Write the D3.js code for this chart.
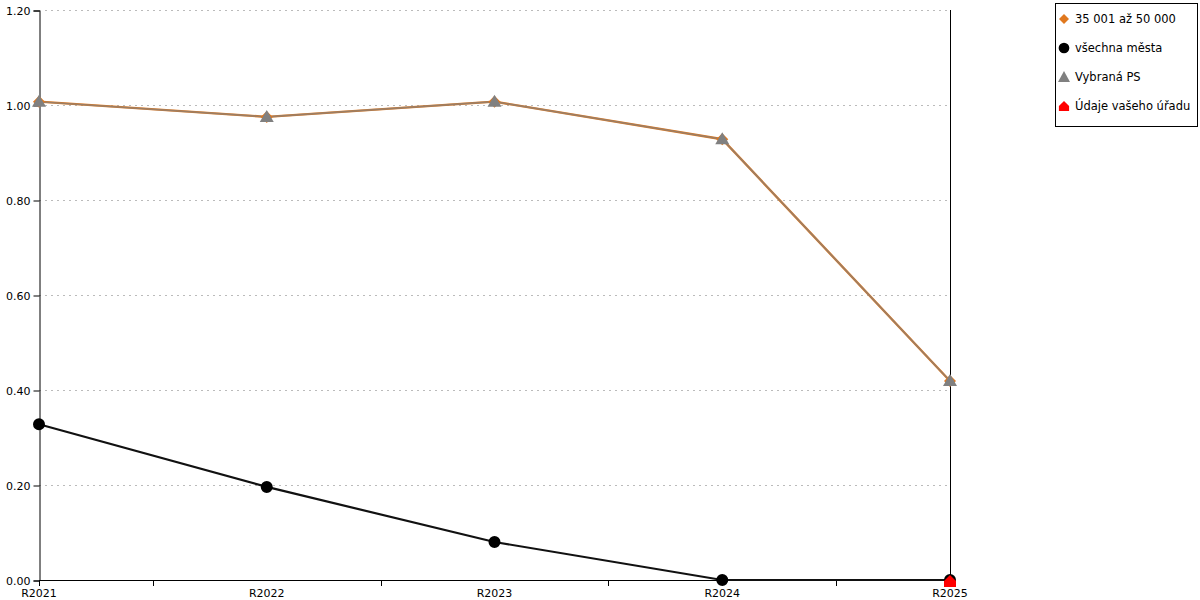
<!DOCTYPE html>
<html>
<head>
<meta charset="utf-8">
<script src="https://cdn.jsdelivr.net/npm/d3@7"></script>
<style>
  body { margin: 0; background: #fff; }
  svg { font-family: "DejaVu Sans", sans-serif; }
</style>
</head>
<body>
<svg id="chart" width="1200" height="600"></svg>
<script>
var years = ['R2021', 'R2022', 'R2023', 'R2024', 'R2025'];
var yTicks = [0, 0.2, 0.4, 0.6, 0.8, 1.0, 1.2];

// series values
var velikost = [1.007, 0.975, 1.007, 0.928, 0.419];   // 35 001 až 50 000
var vsechna = [0.328, 0.196, 0.080, 0.0, 0.0];        // všechna města
var vybrana = [1.007, 0.975, 1.007, 0.928, 0.419];    // Vybraná PS
var urad = [null, null, null, null, 0.0];             // Údaje vašeho úřadu

var svg = d3.select('#chart');

var x = d3.scalePoint().domain(years).range([39, 950]);
var y = d3.scaleLinear().domain([0, 1.2]).range([580, 10]);

// horizontal grid
svg.append('g')
  .selectAll('line')
  .data(yTicks.slice(1))
  .enter().append('line')
    .attr('x1', 39).attr('x2', 950)
    .attr('y1', function(d) { return y(d) + 0.5; })
    .attr('y2', function(d) { return y(d) + 0.5; })
    .attr('stroke', '#bbb')
    .attr('stroke-dasharray', '2,4');

// y axis
var yAxis = d3.axisLeft(y).tickValues(yTicks).tickFormat(d3.format('.2f')).tickSizeOuter(0).tickSize(6);
var gy = svg.append('g').attr('transform', 'translate(39.5,0.5)').call(yAxis);
gy.selectAll('text').attr('font-size', 11).attr('font-family', 'DejaVu Sans').attr('fill', '#000');

// x axis with ticks between categories
var step = x.step();
var between = years.slice(1).map(function(d) { return x(d) - step / 2; });
svg.append('line')
  .attr('x1', 39).attr('x2', 950)
  .attr('y1', 580.5).attr('y2', 580.5)
  .attr('stroke', '#000');
svg.append('g').selectAll('line')
  .data(between)
  .enter().append('line')
    .attr('x1', function(d) { return Math.round(d) + 0.5; })
    .attr('x2', function(d) { return Math.round(d) + 0.5; })
    .attr('y1', 580).attr('y2', 586)
    .attr('stroke', '#000');
svg.append('line')
  .attr('x1', 39.5).attr('x2', 39.5).attr('y1', 580).attr('y2', 586)
  .attr('stroke', '#000');
svg.append('g').selectAll('text')
  .data(years)
  .enter().append('text')
    .attr('x', function(d) { return x(d); })
    .attr('y', 597)
    .attr('text-anchor', 'middle')
    .attr('font-size', 11)
    .text(function(d) { return d; });

// right vertical line
svg.append('line')
  .attr('x1', 950.5).attr('x2', 950.5).attr('y1', 10).attr('y2', 580)
  .attr('stroke', '#000');

var line = d3.line()
  .defined(function(d) { return d != null; })
  .x(function(d, i) { return x(years[i]); })
  .y(function(d) { return y(d); });

function drawLine(vals, color, width, opacity) {
  svg.append('path')
    .datum(vals)
    .attr('d', line)
    .attr('fill', 'none')
    .attr('stroke', color)
    .attr('stroke-width', width)
    .attr('stroke-opacity', opacity);
}

drawLine(vsechna, '#111', 2.2, 1);
drawLine(velikost, '#e0781e', 2.4, 1);
drawLine(vybrana, '#808080', 1.6, 0.7);

var diamond = 'M0,-6L6,0L0,6L-6,0Z';
var circle = d3.symbol().type(d3.symbolCircle).size(113)();
var triangle = 'M0,-7L7,5L-7,5Z';
var house = 'M-6,6L-6,0L0,-6L6,0L6,6Z';

function drawMarks(vals, path, color, dy) {
  svg.append('g').selectAll('path')
    .data(vals.map(function(v, i) { return { v: v, i: i }; }).filter(function(d) { return d.v != null; }))
    .enter().append('path')
      .attr('d', path)
      .attr('fill', color)
      .attr('transform', function(d) {
        return 'translate(' + x(years[d.i]) + ',' + (y(d.v) + (dy || 0)) + ')';
      });
}

drawMarks(velikost, diamond, '#e0781e', 0);
drawMarks(vsechna, circle, '#000', 0);
drawMarks(vybrana, triangle, '#808080', 0);
drawMarks(urad, house, '#ff0000', 1);

// legend
var legendItems = [
  { name: '35 001 až 50 000', path: 'M0,-5L5,0L0,5L-5,0Z', color: '#e0781e' },
  { name: 'všechna města', path: d3.symbol().type(d3.symbolCircle).size(90)(), color: '#000' },
  { name: 'Vybraná PS', path: 'M0,-6L6,5L-6,5Z', color: '#808080' },
  { name: 'Údaje vašeho úřadu', path: house, color: '#ff0000' }
];
var lg = svg.append('g');
lg.append('rect')
  .attr('x', 1055.5).attr('y', 3.5).attr('width', 142).attr('height', 123)
  .attr('fill', '#fff').attr('stroke', '#000');
var item = lg.selectAll('g.item')
  .data(legendItems)
  .enter().append('g')
    .attr('class', 'item')
    .attr('transform', function(d, i) { return 'translate(1064,' + (19 + i * 29) + ')'; });
item.append('path')
  .attr('d', function(d) { return d.path; })
  .attr('fill', function(d) { return d.color; })
  .attr('transform', function(d, i) { return i === 3 ? 'scale(0.85)' : null; });
item.append('text')
  .attr('x', 11).attr('y', 4)
  .attr('font-size', 11.5)
  .text(function(d) { return d.name; });
</script>
</body>
</html>
